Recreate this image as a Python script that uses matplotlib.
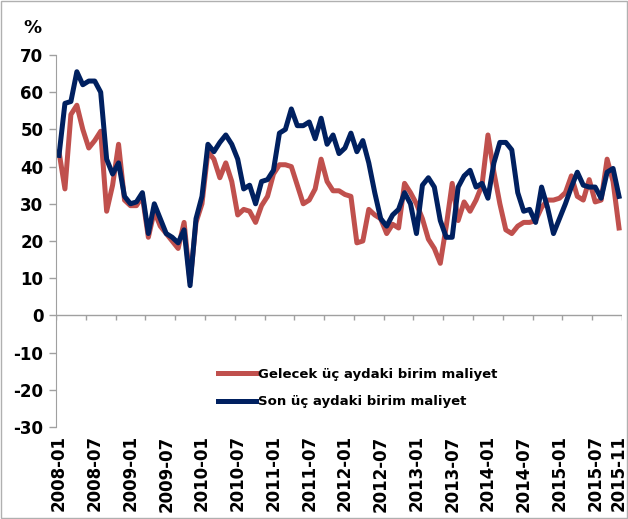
import numpy as np
import matplotlib
matplotlib.use("Agg")
import matplotlib.pyplot as plt
from matplotlib.patches import Rectangle

# aylar: 2008-01 ... 2015-11
months = [f"{2008 + k // 12}-{k % 12 + 1:02d}" for k in range(95)]

gelecek = [44, 34, 54, 56.5, 50, 45, 47, 49.5, 28, 35, 46, 31,
           29.5, 29.5, 32, 21, 28, 24, 22, 20, 18, 25, 9, 25,
           30, 44, 42, 37, 41, 36, 27, 28.5, 28, 25, 29.5, 32,
           38, 40.5, 40.5, 40, 35, 30, 31, 34, 42, 36, 33.5, 33.5,
           32.5, 32, 19.5, 20, 28.5, 27, 26, 22, 24.5, 23.5, 35.5, 33,
           30, 26, 20.5, 18, 14, 24, 35.5, 25.5, 30.5, 28, 31, 35,
           48.5, 38.5, 30, 23, 22, 24, 25, 25, 25.5, 29, 31, 31,
           31.5, 33, 37.5, 32, 31, 36.5, 30.5, 31, 42, 36, 23.5]

son = [43, 57, 57.5, 65.5, 62, 63, 63, 60, 42, 38, 41, 32,
       30, 30.5, 33, 22, 30, 26, 22, 21, 19.5, 23, 8, 26,
       32, 46, 44, 46.5, 48.5, 46, 42, 34, 35, 30, 36, 36.5,
       39, 49, 50, 55.5, 51, 51, 52, 47.5, 53, 46, 48.5, 43.5,
       45, 49, 44, 47, 41, 33, 26, 24, 27, 28.5, 33, 30,
       22, 35, 37, 34.5, 25.5, 21, 21, 34.5, 37.5, 39, 34.5, 35.5,
       31.5, 41, 46.5, 46.5, 44.5, 33, 28, 28.5, 25, 34.5, 29, 22,
       26, 30, 34.5, 38.5, 35, 34.5, 34.5, 31.5, 38.5, 39.5, 32]

label_idx = list(range(0, 95, 6)) + [94]
yticks = list(range(-30, 71, 10))

kirmizi = "#C0504D"
lacivert = "#002060"
gri = "#A0A0A0"

fig = plt.figure(figsize=(6.28, 5.19), dpi=100)
ax = fig.add_axes([56 / 628, 1 - 427 / 519, 566 / 628, 372 / 519])

x = np.arange(len(months))
ax.plot(x, gelecek, color=kirmizi, lw=3.6, solid_joinstyle="round",
        label="Gelecek üç aydaki birim maliyet")
ax.plot(x, son, color=lacivert, lw=3.6, solid_joinstyle="round",
        label="Son üç aydaki birim maliyet")

ax.set_xlim(-0.5, len(months) - 0.5)
ax.set_ylim(-30, 70)

# y ekseni
ax.set_yticks(yticks)
ax.set_yticklabels([str(v) for v in yticks], fontsize=12, fontweight="bold")
ax.tick_params(axis="y", direction="out", length=5, width=1, color=gri, pad=4)
for s in ["top", "right", "bottom"]:
    ax.spines[s].set_visible(False)
ax.spines["left"].set_color(gri)

# x ekseni 0 seviyesinde, etiketler altta
ax.axhline(0, color=gri, lw=1, zorder=1)
tick_pos = np.arange(-0.5, len(months), 5)
ax.vlines(tick_pos, -1.3, 0, color=gri, lw=1, zorder=1)
ax.set_xticks(label_idx)
ax.set_xticklabels([months[i] for i in label_idx], rotation=90,
                   fontsize=12, fontweight="bold")
ax.tick_params(axis="x", length=0, pad=6)

ax.text(-0.041, 1.073, "%", transform=ax.transAxes, fontsize=13,
        fontweight="bold", ha="center", va="center")

leg = ax.legend(loc="center left", bbox_to_anchor=(0.265, 0.105),
                frameon=False, handlelength=2.9, handletextpad=0.15,
                labelspacing=1.1, prop={"size": 9.5, "weight": "bold"})

fig.patches.append(Rectangle((0.002, 0.002), 0.996, 0.996,
                             transform=fig.transFigure, fill=False,
                             edgecolor="#B0B0B0", lw=1))

fig.savefig("out.png", dpi=100)
